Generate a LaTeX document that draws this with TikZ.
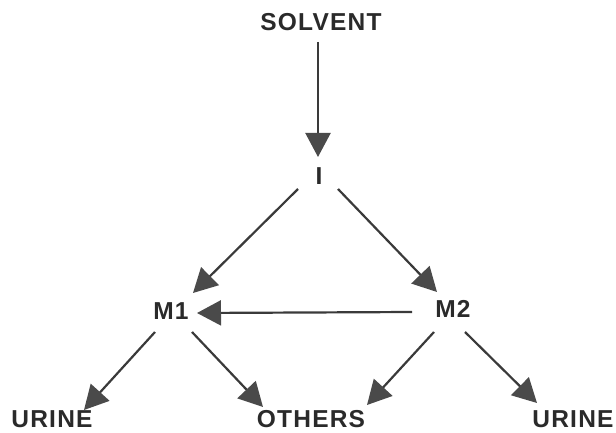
\documentclass[tikz,border=0pt]{standalone}
\usepackage{fontspec}
\setmainfont{Liberation Sans}[LetterSpace=5]
\usetikzlibrary{arrows.meta,calc}
\definecolor{ink}{HTML}{2A2A2A}
\definecolor{shaft}{HTML}{3A3A3A}
\definecolor{headgray}{HTML}{4A4A4A}
\tikzset{
  lbl/.style={inner sep=0pt, text=ink, font=\fontsize{24.5}{28}\selectfont\bfseries},
  flow/.style={draw=shaft, line width=2.2pt,
    -{Triangle[length=24pt,width=25pt,fill=headgray,color=headgray]}},
}
\begin{document}
\begin{tikzpicture}[x=1pt,y=-1pt]
\useasboundingbox (0,0) rectangle (616,433);

% compartments
\node[lbl] (solv) at (321,22)  {SOLVENT};
\node[lbl] (inh)  at (319,176) {I};
\node[lbl] (m1)   at (171,311) {M1};
\node[lbl] (m2)   at (453,309) {M2};
\node[lbl] (u1)   at (52,419)  {URINE};
\node[lbl] (oth)  at (311,419) {OTHERS};
\node[lbl] (u2)   at (573,419) {URINE};

% transfers between compartments
\draw[flow] ($(solv)+(-3,20)$) -- ($(inh)+(-1,-19)$);
\draw[flow] ($(inh)+(-21,13)$) -- ($(m1)+(22,-18)$);
\draw[flow] ($(inh)+(19,13)$)  -- ($(m2)+(-16,-17)$);
\draw[flow] ($(m2)+(-41,3)$)   -- ($(m1)+(26,2)$);
\draw[flow] ($(m1)+(-16,21)$)  -- ($(u1)+(32,-9)$);
\draw[flow] ($(m1)+(21,21)$)   -- ($(oth)+(-48,-12)$);
\draw[flow] ($(m2)+(-19,23)$)  -- ($(oth)+(56,-14)$);
\draw[flow] ($(m2)+(12,23)$)   -- ($(u2)+(-36,-16)$);
\end{tikzpicture}
\end{document}
